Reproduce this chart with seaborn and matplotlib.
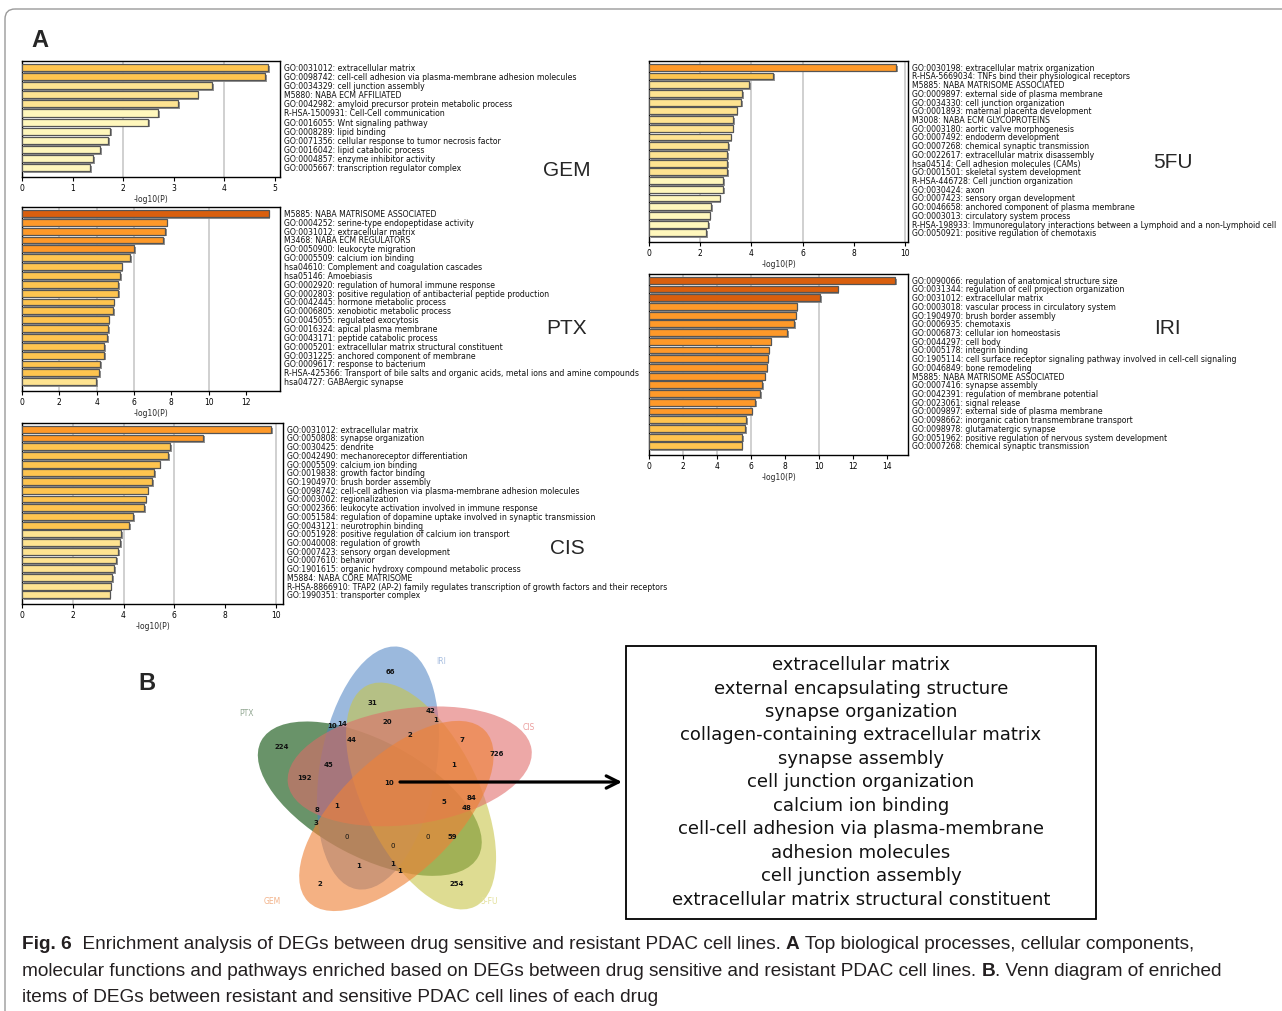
import numpy as np
import pandas as pd
import matplotlib
matplotlib.use("Agg")
import matplotlib.pyplot as plt
import matplotlib.patheffects as pe
import matplotlib.transforms as mtransforms
from matplotlib.patches import Ellipse, Rectangle, FancyBboxPatch
import seaborn as sns

# ---------------- data ----------------
gem_terms = [
    "GO:0031012: extracellular matrix",
    "GO:0098742: cell-cell adhesion via plasma-membrane adhesion molecules",
    "GO:0034329: cell junction assembly",
    "M5880: NABA ECM AFFILIATED",
    "GO:0042982: amyloid precursor protein metabolic process",
    "R-HSA-1500931: Cell-Cell communication",
    "GO:0016055: Wnt signaling pathway",
    "GO:0008289: lipid binding",
    "GO:0071356: cellular response to tumor necrosis factor",
    "GO:0016042: lipid catabolic process",
    "GO:0004857: enzyme inhibitor activity",
    "GO:0005667: transcription regulator complex",
]
gem_vals = [4.87, 4.81, 3.76, 3.47, 3.09, 2.69, 2.50, 1.74, 1.70, 1.54, 1.41, 1.35]

ptx_terms = [
    "M5885: NABA MATRISOME ASSOCIATED",
    "GO:0004252: serine-type endopeptidase activity",
    "GO:0031012: extracellular matrix",
    "M3468: NABA ECM REGULATORS",
    "GO:0050900: leukocyte migration",
    "GO:0005509: calcium ion binding",
    "hsa04610: Complement and coagulation cascades",
    "hsa05146: Amoebiasis",
    "GO:0002920: regulation of humoral immune response",
    "GO:0002803: positive regulation of antibacterial peptide production",
    "GO:0042445: hormone metabolic process",
    "GO:0006805: xenobiotic metabolic process",
    "GO:0045055: regulated exocytosis",
    "GO:0016324: apical plasma membrane",
    "GO:0043171: peptide catabolic process",
    "GO:0005201: extracellular matrix structural constituent",
    "GO:0031225: anchored component of membrane",
    "GO:0009617: response to bacterium",
    "R-HSA-425366: Transport of bile salts and organic acids, metal ions and amine compounds",
    "hsa04727: GABAergic synapse",
]
ptx_vals = [13.21, 7.75, 7.66, 7.54, 6.02, 5.80, 5.34, 5.27, 5.16, 5.16,
            4.91, 4.86, 4.64, 4.63, 4.54, 4.41, 4.41, 4.18, 4.14, 3.96]

cis_terms = [
    "GO:0031012: extracellular matrix",
    "GO:0050808: synapse organization",
    "GO:0030425: dendrite",
    "GO:0042490: mechanoreceptor differentiation",
    "GO:0005509: calcium ion binding",
    "GO:0019838: growth factor binding",
    "GO:1904970: brush border assembly",
    "GO:0098742: cell-cell adhesion via plasma-membrane adhesion molecules",
    "GO:0003002: regionalization",
    "GO:0002366: leukocyte activation involved in immune response",
    "GO:0051584: regulation of dopamine uptake involved in synaptic transmission",
    "GO:0043121: neurotrophin binding",
    "GO:0051928: positive regulation of calcium ion transport",
    "GO:0040008: regulation of growth",
    "GO:0007423: sensory organ development",
    "GO:0007610: behavior",
    "GO:1901615: organic hydroxy compound metabolic process",
    "M5884: NABA CORE MATRISOME",
    "R-HSA-8866910: TFAP2 (AP-2) family regulates transcription of growth factors and their receptors",
    "GO:1990351: transporter complex",
]
cis_vals = [9.80, 7.13, 5.82, 5.75, 5.42, 5.20, 5.11, 4.95, 4.87, 4.80,
            4.37, 4.21, 3.91, 3.87, 3.80, 3.71, 3.62, 3.55, 3.49, 3.45]

fu_terms = [
    "GO:0030198: extracellular matrix organization",
    "R-HSA-5669034: TNFs bind their physiological receptors",
    "M5885: NABA MATRISOME ASSOCIATED",
    "GO:0009897: external side of plasma membrane",
    "GO:0034330: cell junction organization",
    "GO:0001893: maternal placenta development",
    "M3008: NABA ECM GLYCOPROTEINS",
    "GO:0003180: aortic valve morphogenesis",
    "GO:0007492: endoderm development",
    "GO:0007268: chemical synaptic transmission",
    "GO:0022617: extracellular matrix disassembly",
    "hsa04514: Cell adhesion molecules (CAMs)",
    "GO:0001501: skeletal system development",
    "R-HSA-446728: Cell junction organization",
    "GO:0030424: axon",
    "GO:0007423: sensory organ development",
    "GO:0046658: anchored component of plasma membrane",
    "GO:0003013: circulatory system process",
    "R-HSA-198933: Immunoregulatory interactions between a Lymphoid and a non-Lymphoid cell",
    "GO:0050921: positive regulation of chemotaxis",
]
fu_vals = [9.67, 4.85, 3.91, 3.64, 3.59, 3.42, 3.29, 3.27, 3.19, 3.10,
           3.05, 3.05, 3.04, 2.91, 2.88, 2.76, 2.44, 2.37, 2.31, 2.24]

iri_terms = [
    "GO:0090066: regulation of anatomical structure size",
    "GO:0031344: regulation of cell projection organization",
    "GO:0031012: extracellular matrix",
    "GO:0003018: vascular process in circulatory system",
    "GO:1904970: brush border assembly",
    "GO:0006935: chemotaxis",
    "GO:0006873: cellular ion homeostasis",
    "GO:0044297: cell body",
    "GO:0005178: integrin binding",
    "GO:1905114: cell surface receptor signaling pathway involved in cell-cell signaling",
    "GO:0046849: bone remodeling",
    "M5885: NABA MATRISOME ASSOCIATED",
    "GO:0007416: synapse assembly",
    "GO:0042391: regulation of membrane potential",
    "GO:0023061: signal release",
    "GO:0009897: external side of plasma membrane",
    "GO:0098662: inorganic cation transmembrane transport",
    "GO:0098978: glutamatergic synapse",
    "GO:0051962: positive regulation of nervous system development",
    "GO:0007268: chemical synaptic transmission",
]
iri_vals = [14.5, 11.1, 10.08, 8.69, 8.63, 8.53, 8.12, 7.16, 7.04, 6.98,
            6.92, 6.80, 6.67, 6.55, 6.24, 6.04, 5.69, 5.67, 5.47, 5.45]

venn_sets = ["IRI", "PTX", "GEM", "5-FU", "CIS"]
venn_counts = [66, 31, 42, 1, 10, 14, 20, 2, 7, 224, 44, 726, 45, 1, 192, 10,
               84, 1, 5, 48, 8, 3, 0, 0, 59, 0, 1, 1, 1, 2, 254]

shared_terms = [
    "extracellular matrix",
    "external encapsulating structure",
    "synapse organization",
    "collagen-containing extracellular matrix",
    "synapse assembly",
    "cell junction organization",
    "calcium ion binding",
    "cell-cell adhesion via plasma-membrane",
    "adhesion molecules",
    "cell junction assembly",
    "extracellular matrix structural constituent",
]

# ---------------- layout / style ----------------
W, H = 1282, 1012
sns.set_theme(style="ticks")
plt.rcParams["font.family"] = ["DejaVu Sans"]
fig = plt.figure(figsize=(W / 100, H / 100), dpi=100)
fig.patch.set_facecolor("white")


def px_rect(l, t, r, b):
    return [l / W, 1 - b / H, (r - l) / W, (b - t) / H]


def bar_color(v):
    if v >= 10:
        return "#d95f0e"
    if v >= 6:
        return "#fe9929"
    if v >= 4:
        return "#fec44f"
    if v >= 3:
        return "#fee391"
    return "#fff7bc"


panels = [
    (gem_terms, gem_vals, "GEM", (22, 62, 280, 178), 5.10, [0, 1, 2, 3, 4, 5], (567, 170)),
    (ptx_terms, ptx_vals, "PTX", (22, 208, 280, 392), 13.82, [0, 2, 4, 6, 8, 10, 12], (567, 328)),
    (cis_terms, cis_vals, "CIS", (22, 424, 283, 605), 10.28, [0, 2, 4, 6, 8, 10], (567, 549)),
    (fu_terms, fu_vals, "5FU", (649, 62, 908, 243), 10.12, [0, 2, 4, 6, 8, 10], (1173, 162)),
    (iri_terms, iri_vals, "IRI", (649, 275, 908, 456), 15.24, [0, 2, 4, 6, 8, 10, 12, 14], (1167, 328)),
]

for terms, vals, name, box, xmax, ticks, namepos in panels:
    ax = fig.add_axes(px_rect(*box))
    n = len(vals)
    df = pd.DataFrame({"term": terms, "val": vals})
    sns.barplot(data=df, x="val", y="term", hue="term", orient="h",
                palette=[bar_color(v) for v in vals], legend=False,
                saturation=1, width=0.78, edgecolor="#555555", linewidth=0.9, ax=ax)
    for p in ax.patches:
        p.set_path_effects([pe.SimplePatchShadow(offset=(1.3, -1.3), shadow_rgbFace="#8a8a8a", alpha=0.9),
                            pe.Normal()])
        p.set_zorder(3)
    for g in [2, 4, 6, 10]:
        if g < xmax:
            ax.axvline(g, color="#d0d0d0", lw=1.4, zorder=1)
    ax.set_xlim(0, xmax)
    ax.set_ylim(n - 0.5 + 0.55, -0.72)
    ax.set_yticks([])
    ax.set_ylabel("")
    ax.set_xticks(ticks)
    ax.tick_params(axis="x", labelsize=5.5, length=3, width=0.8, pad=1.5, bottom=True, colors="black")
    ax.set_xlabel("-log10(P)", fontsize=5.5, labelpad=1.5)
    for s in ax.spines.values():
        s.set_visible(True)
        s.set_color("black")
        s.set_linewidth(1.0)
    trans = mtransforms.blended_transform_factory(ax.transAxes, ax.transData)
    for i, t in enumerate(terms):
        ax.annotate(t, xy=(1, i), xycoords=trans, xytext=(3, 0), textcoords="offset points",
                    va="center", ha="left", fontsize=5.6, color="#111111", annotation_clip=False)
    fig.text(namepos[0] / W, 1 - namepos[1] / H, name, fontsize=15, ha="center", va="center",
             family=["Liberation Sans", "DejaVu Sans"])

# ---------------- overlay axes (pixel coordinates) ----------------
ov = fig.add_axes([0, 0, 1, 1], zorder=-1)
ov.set_xlim(0, W)
ov.set_ylim(H, 0)
ov.axis("off")
ov.patch.set_visible(False)

# outer frame
ov.add_patch(FancyBboxPatch((5, 10), 1300, 1030, boxstyle="round,pad=0,rounding_size=10",
                            fill=False, edgecolor="#9a9a9a", lw=1.0, clip_on=True))

ov.text(40, 40, "A", fontsize=17, fontweight="bold", ha="center", va="center",
        family=["Liberation Sans", "DejaVu Sans"])
ov.text(147, 683, "B", fontsize=17, fontweight="bold", ha="center", va="center",
        family=["Liberation Sans", "DejaVu Sans"])

# Venn diagram: five congruent ellipses rotated by 72 degrees
vc = (395, 790)
venn_colors = {"IRI": "#4a80c2", "PTX": "#2f6a2f", "GEM": "#ee8238", "5-FU": "#c8c64a", "CIS": "#e06a68"}
venn_alpha = {"IRI": 0.55, "PTX": 0.72, "GEM": 0.62, "5-FU": 0.6, "CIS": 0.58}
label_col = {"IRI": "#a8bfe0", "PTX": "#93a893", "GEM": "#f3b38a", "5-FU": "#e2e09a", "CIS": "#ec9f9e"}
label_pos = {"IRI": (441, 661), "PTX": (247, 714), "GEM": (272, 902), "5-FU": (489, 902), "CIS": (529, 727)}
draw_order = ["PTX", "IRI", "5-FU", "CIS", "GEM"]
semi_a, semi_b, dist = 123, 58, 27
for name in draw_order:
    k = venn_sets.index(name)
    alpha_k = 90 + 72 * k
    ca = np.deg2rad(alpha_k + 39)
    cx = vc[0] + dist * np.cos(ca)
    cy = vc[1] - dist * np.sin(ca)
    e = Ellipse((cx, cy), 2 * semi_a, 2 * semi_b, angle=-(alpha_k - 10),
                facecolor=venn_colors[name], alpha=venn_alpha[name], edgecolor="none")
    ov.add_patch(e)
    ov.text(*label_pos[name], name, fontsize=5.5, color=label_col[name], ha="center", va="center")

venn_pos = [(390, 672), (372, 703), (430, 711), (436, 720), (332, 726), (342, 724), (387, 722),
            (410, 735), (462, 740), (282, 747), (352, 740), (497, 754), (329, 765), (454, 765),
            (304, 778), (389, 783), (472, 798), (337, 806), (444, 802), (467, 808), (317, 810),
            (316, 823), (347, 837), (428, 837), (452, 837), (393, 846), (359, 866), (393, 864),
            (400, 871), (320, 884), (457, 884)]
for (x, y), c in zip(venn_pos, venn_counts):
    ov.text(x, y, str(c), fontsize=5, fontweight="normal" if c == 0 else "bold",
            ha="center", va="center", color="#111111")

# arrow to the box
ov.annotate("", xy=(622, 783), xytext=(400, 783),
            arrowprops=dict(arrowstyle="->", lw=2.3, color="black", mutation_scale=22,
                            shrinkA=0, shrinkB=0))

# box with shared terms
ov.add_patch(Rectangle((626, 647), 470, 273, fill=False, edgecolor="black", lw=1.3))
for i, t in enumerate(shared_terms):
    ov.text(861, 665 + 23.5 * i, t, fontsize=13, ha="center", va="center", color="#111111")

# caption with mixed weights
cap_family = ["Liberation Sans", "DejaVu Sans"]
renderer = fig.canvas.get_renderer()


def caption_line(x, y, parts, size=13.7):
    for s, w in parts:
        t = ov.text(x, y, s, fontsize=size, fontweight=w, ha="left", va="baseline",
                    family=cap_family, color="#231f20")
        bb = t.get_window_extent(renderer=renderer)
        x += bb.width


caption_line(22, 949, [("Fig. 6", "bold"),
                       ("  Enrichment analysis of DEGs between drug sensitive and resistant PDAC cell lines. ", "normal"),
                       ("A", "bold"),
                       (" Top biological processes, cellular components,", "normal")])
caption_line(22, 976, [("molecular functions and pathways enriched based on DEGs between drug sensitive and resistant PDAC cell lines. ", "normal"),
                       ("B", "bold"),
                       (". Venn diagram of enriched", "normal")])
caption_line(22, 1002, [("items of DEGs between resistant and sensitive PDAC cell lines of each drug", "normal")])

fig.savefig("out.png", dpi=100, facecolor="white")
